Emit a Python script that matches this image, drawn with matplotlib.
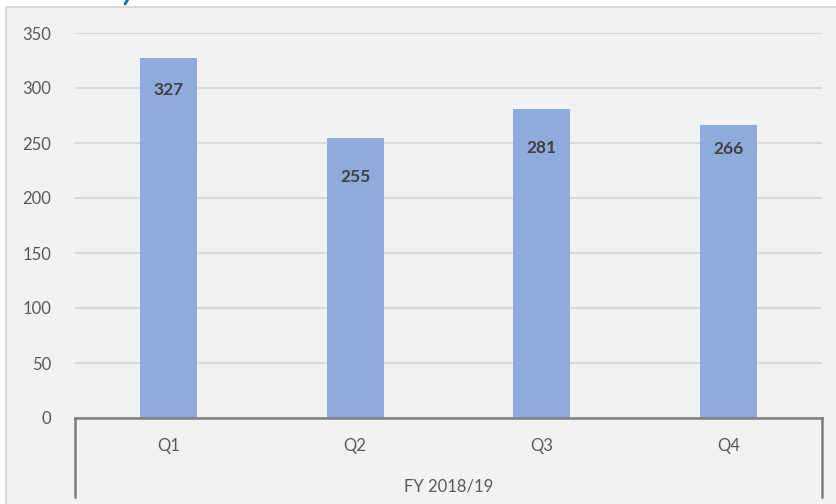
import matplotlib
matplotlib.use("Agg")
import matplotlib.pyplot as plt
from matplotlib.patches import Rectangle
from matplotlib.lines import Line2D

categories = ["Q1", "Q2", "Q3", "Q4"]
values = [327, 255, 281, 266]
group_label = "FY 2018/19"
yticks = [0, 50, 100, 150, 200, 250, 300, 350]
label_offsets_px = [32, 39, 39, 24]

W, H = 837, 504
plt.rcParams['font.family'] = ['Lato', 'DejaVu Sans']
fig = plt.figure(figsize=(W / 100, H / 100), dpi=100)
fig.patch.set_facecolor("white")

def fx(px):
    return px / W

def fy(py):
    return 1 - py / H

# chart panel background
fig.add_artist(Rectangle((fx(6), fy(510)), fx(840) - fx(6), fy(7) - fy(510),
                         transform=fig.transFigure, facecolor="#f2f2f2",
                         edgecolor="#d9d9d9", linewidth=1.5, zorder=0))

# small fragment of the cut-off title above the panel
fig.add_artist(Line2D([fx(125), fx(127.5)], [fy(4), fy(0)], color="#0070c0",
                      linewidth=2, solid_capstyle="round", zorder=1))

left, right, top, bottom = 75, 822, 33, 418
ax = fig.add_axes([fx(left), fy(bottom), fx(right) - fx(left), fy(top) - fy(bottom)])
ax.set_facecolor("none")
x = list(range(len(categories)))
ax.bar(x, values, width=0.305, color="#8faadc", zorder=2)
ax.set_xlim(-0.5, len(categories) - 0.5)
ax.set_ylim(0, 350)
ax.set_yticks(yticks)
ax.set_yticklabels([str(t) for t in yticks], color="#595959", fontsize=12)
ax.tick_params(axis="y", length=0, pad=17)
ax.set_xticks([])
ax.grid(axis="y", color="#d9d9d9", linewidth=1.5, zorder=1)
for s in ["top", "right", "left", "bottom"]:
    ax.spines[s].set_visible(False)

for xi, v, off in zip(x, values, label_offsets_px):
    ax.annotate(str(v), (xi, v), xytext=(0, -off * 0.72), textcoords="offset points",
                ha="center", va="center", fontsize=12.5, fontweight="bold",
                color="#404040", zorder=3)

# category labels
for xi, c in zip(x, categories):
    ax.text(xi, (bottom - 446) / (bottom - top), c, transform=ax.get_xaxis_transform(),
            ha="center", va="center", fontsize=12, color="#595959")
ax.text((len(categories) - 1) / 2, (bottom - 487) / (bottom - top), group_label,
        transform=ax.get_xaxis_transform(), ha="center", va="center",
        fontsize=12, color="#595959")

# axis bracket lines
lc = "#7f7f7f"
fig.add_artist(Line2D([fx(left), fx(right)], [fy(bottom), fy(bottom)], color=lc, linewidth=1.8, zorder=5))
fig.add_artist(Line2D([fx(left), fx(left)], [fy(bottom), fy(497)], color=lc, linewidth=1.8, zorder=5))
fig.add_artist(Line2D([fx(right), fx(right)], [fy(bottom), fy(497)], color=lc, linewidth=1.8, zorder=5))

fig.savefig("out.png", dpi=100)
